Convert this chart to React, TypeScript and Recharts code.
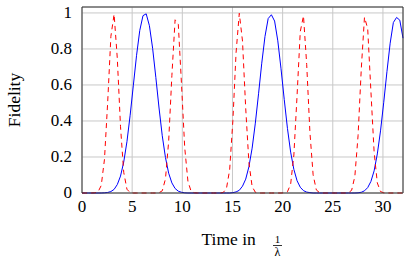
import React from "react";
import {
  LineChart,
  Line,
  XAxis,
  YAxis,
  CartesianGrid,
  ReferenceLine,
} from "recharts";

// sample times (in 1/lambda)
const TIME = [
  0, 0.32, 0.64, 0.96, 1.28, 1.6, 1.92, 2.24, 2.56, 2.88,
  3.2, 3.52, 3.84, 4.16, 4.48, 4.8, 5.12, 5.44, 5.76, 6.08,
  6.4, 6.72, 7.04, 7.36, 7.68, 8.0, 8.32, 8.64, 8.96, 9.28,
  9.6, 9.92, 10.24, 10.56, 10.88, 11.2, 11.52, 11.84, 12.16, 12.48,
  12.8, 13.12, 13.44, 13.76, 14.08, 14.4, 14.72, 15.04, 15.36, 15.68,
  16.0, 16.32, 16.64, 16.96, 17.28, 17.6, 17.92, 18.24, 18.56, 18.88,
  19.2, 19.52, 19.84, 20.16, 20.48, 20.8, 21.12, 21.44, 21.76, 22.08,
  22.4, 22.72, 23.04, 23.36, 23.68, 24.0, 24.32, 24.64, 24.96, 25.28,
  25.6, 25.92, 26.24, 26.56, 26.88, 27.2, 27.52, 27.84, 28.16, 28.48,
  28.8, 29.12, 29.44, 29.76, 30.08, 30.4, 30.72, 31.04, 31.36, 31.68,
  32.0,
];

// solid blue curve
const BLUE_FIDELITY = [
  0, 0, 0, 0, 0, 0, 0, 0.001, 0.003, 0.008,
  0.02, 0.047, 0.094, 0.172, 0.285, 0.432, 0.599, 0.765, 0.903, 0.985,
  0.995, 0.929, 0.804, 0.642, 0.472, 0.318, 0.197, 0.11, 0.056, 0.025,
  0.01, 0.004, 0.001, 0, 0, 0, 0, 0, 0, 0,
  0, 0, 0, 0, 0, 0, 0, 0.002, 0.006, 0.015,
  0.038, 0.077, 0.146, 0.249, 0.388, 0.551, 0.721, 0.869, 0.969, 0.99,
  0.955, 0.845, 0.69, 0.52, 0.359, 0.227, 0.131, 0.068, 0.032, 0.013,
  0.005, 0.002, 0, 0, 0, 0, 0, 0, 0, 0,
  0, 0, 0, 0, 0, 0, 0.001, 0.004, 0.012, 0.03,
  0.064, 0.123, 0.217, 0.345, 0.504, 0.674, 0.832, 0.947, 0.975, 0.96,
  0.86,
];

// dashed red curve
const RED_FIDELITY = [
  0, 0, 0, 0, 0.001, 0.006, 0.042, 0.187, 0.504, 0.87,
  0.993, 0.747, 0.368, 0.115, 0.021, 0.002, 0, 0, 0, 0,
  0, 0, 0, 0, 0.002, 0.012, 0.078, 0.288, 0.652, 0.962,
  0.937, 0.603, 0.252, 0.065, 0.009, 0.001, 0, 0, 0, 0,
  0, 0, 0, 0, 0.003, 0.025, 0.129, 0.402, 0.78, 0.998,
  0.844, 0.47, 0.168, 0.036, 0.004, 0, 0, 0, 0, 0,
  0, 0, 0, 0.001, 0.007, 0.049, 0.211, 0.542, 0.897, 0.984,
  0.713, 0.338, 0.101, 0.017, 0.002, 0, 0, 0, 0, 0,
  0, 0, 0, 0.002, 0.015, 0.092, 0.318, 0.688, 0.976, 0.914,
  0.566, 0.228, 0.056, 0.008, 0.001, 0, 0, 0, 0, 0,
  0,
];

const X_TICKS = [0, 5, 10, 15, 20, 25, 30];
const Y_TICKS = [0, 0.2, 0.4, 0.6, 0.8, 1];
const X_MAX = 32;
const Y_MAX = 1.033;

const FONT = "Liberation Serif";
const FRAME = "#333333";

const rows = TIME.map((t, i) => ({
  t,
  blue: BLUE_FIDELITY[i],
  red: RED_FIDELITY[i],
}));

function XLabel(props: any) {
  const vb = props.viewBox;
  if (!vb) return null;
  const cx = vb.x + vb.width / 2;
  const base = vb.y + 52;
  const fx = cx + 35;
  return (
    <g fontFamily={FONT} fill="#000">
      <text x={cx - 41} y={base} fontSize={17.5}>
        Time in
      </text>
      <text x={fx} y={base - 2.5} fontSize={11} textAnchor="middle">
        1
      </text>
      <line x1={fx - 4.5} x2={fx + 4.5} y1={base + 0.5} y2={base + 0.5} stroke="#000" strokeWidth={0.8} />
      <text x={fx} y={base + 10.5} fontSize={12} textAnchor="middle">
        λ
      </text>
    </g>
  );
}

function YLabel(props: any) {
  const vb = props.viewBox;
  if (!vb) return null;
  const x = vb.x + 14;
  const y = vb.y + vb.height / 2;
  return (
    <text
      x={x}
      y={y}
      transform={`rotate(-90 ${x} ${y})`}
      textAnchor="middle"
      dominantBaseline="central"
      fontFamily={FONT}
      fontSize={17.5}
      fill="#000"
    >
      Fidelity
    </text>
  );
}

function Tick(props: any) {
  const { x, y, payload, textAnchor, orientation } = props;
  const dy = orientation === "left" ? "0.32em" : "0.71em";
  return (
    <text
      x={x}
      y={y}
      dy={dy}
      textAnchor={textAnchor}
      fontFamily={FONT}
      fontSize={17}
      fill="#000"
    >
      {String(payload.value)}
    </text>
  );
}

export default function App() {
  return (
    <div
      style={{
        position: "fixed",
        left: 0,
        top: 0,
        width: 408,
        height: 272,
        background: "#fff",
        fontFamily: FONT,
      }}
    >
      <LineChart
        width={408}
        height={272}
        data={rows}
        margin={{ top: 7, right: 5, bottom: 19, left: 0 }}
        style={{ fontFamily: FONT }}
      >
        <CartesianGrid stroke="#c8c8c8" strokeWidth={1} />
        <XAxis
          dataKey="t"
          type="number"
          domain={[0, X_MAX]}
          ticks={X_TICKS}
          height={60}
          tickSize={0}
          tickMargin={7}
          tick={<Tick />}
          axisLine={{ stroke: FRAME }}
          label={{ content: XLabel }}
        />
        <YAxis
          type="number"
          domain={[0, Y_MAX]}
          ticks={Y_TICKS}
          width={82}
          tickSize={0}
          tickMargin={10}
          tick={<Tick />}
          axisLine={{ stroke: FRAME }}
          label={{ content: YLabel }}
        />
        <Line
          dataKey="blue"
          type="linear"
          stroke="#0000ff"
          strokeWidth={1}
          dot={false}
          isAnimationActive={false}
        />
        <Line
          dataKey="red"
          type="linear"
          stroke="#ff0000"
          strokeWidth={1}
          strokeDasharray="5 4"
          dot={false}
          isAnimationActive={false}
        />
        <ReferenceLine x={X_MAX} stroke={FRAME} />
        <ReferenceLine y={Y_MAX} stroke={FRAME} />
      </LineChart>
    </div>
  );
}
